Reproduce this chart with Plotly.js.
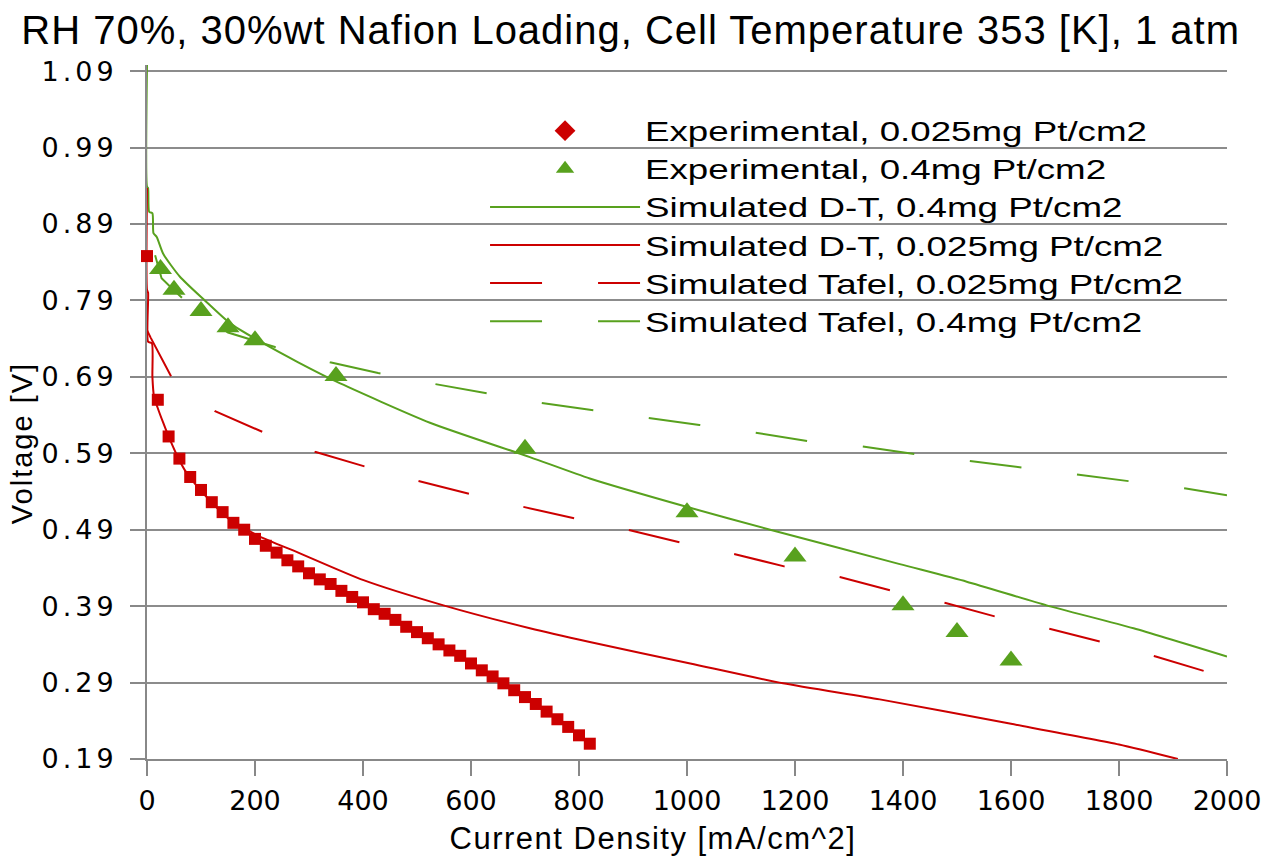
<!DOCTYPE html>
<html><head><meta charset="utf-8">
<script src="https://cdn.plot.ly/plotly-3.0.1.min.js"></script>
<style>
html,body{margin:0;padding:0;background:#fff}
.ytick text{letter-spacing:4px}
.legendtext{transform-box:fill-box;transform-origin:0 50%;transform:scaleX(1.36)}
.gtitle{letter-spacing:1px}
.xtitle{letter-spacing:1.5px;transform:translateX(-34px)}
.ytitle{letter-spacing:2px;transform-box:fill-box;transform-origin:50% 50%;transform:translate(-10px,41px) rotate(-90deg)}
</style>
</head><body><div id="chart" style="width:1274px;height:861px"></div>
<script>
// Experimental, 0.025 mg Pt/cm2
const exp025_I = [0,20,40,60,80,100,120,140,160,180,200,220,240,260,280,300,320,340,360,380,400,420,440,460,480,500,520,540,560,580,600,620,640,660,680,700,720,740,760,780,800,820];
const exp025_V = [0.848,0.660,0.612,0.583,0.559,0.542,0.526,0.513,0.499,0.490,0.478,0.469,0.460,0.450,0.442,0.433,0.425,0.419,0.410,0.402,0.395,0.386,0.380,0.372,0.363,0.356,0.348,0.340,0.332,0.325,0.315,0.306,0.298,0.289,0.280,0.271,0.262,0.252,0.242,0.232,0.221,0.210];
// Experimental, 0.4 mg Pt/cm2
const exp04_I = [25,50,100,150,200,350,700,1000,1200,1400,1500,1600];
const exp04_V = [0.831,0.804,0.776,0.755,0.738,0.691,0.596,0.513,0.455,0.391,0.356,0.319];
// Simulated D-T, 0.4 mg Pt/cm2
const dt04_I = [0,0,2,4,10,12,18,30,61,107,154,215,280,350,524,709,820,999,1154,1394,1518,1666,1827,2000];
const dt04_V = [1.098,0.939,0.937,0.906,0.904,0.878,0.873,0.851,0.821,0.790,0.760,0.734,0.709,0.684,0.630,0.585,0.557,0.520,0.490,0.445,0.422,0.391,0.361,0.324];
// Simulated D-T, 0.025 mg Pt/cm2
const dt025_I = [0,0,2,2,9,10,13,21,30,40,55,70,100,150,209,277,401,549,709,820,1006,1178,1357,1600,1800,1909];
const dt025_V = [0.937,0.804,0.800,0.736,0.734,0.690,0.664,0.647,0.630,0.612,0.588,0.568,0.541,0.505,0.481,0.461,0.424,0.391,0.361,0.343,0.315,0.289,0.268,0.236,0.209,0.190];
// Simulated Tafel, 0.025 mg Pt/cm2
const taf025_I = [0,7,48,126,217,311,407,501,597,696,791,890,990,1089,1180,1283,1380,1479,1573,1673,1769,1868,1958];
const taf025_V = [0.751,0.741,0.686,0.645,0.617,0.592,0.572,0.554,0.537,0.520,0.505,0.490,0.473,0.458,0.442,0.428,0.410,0.394,0.376,0.360,0.343,0.324,0.305];
// Simulated Tafel, 0.4 mg Pt/cm2
const taf04_I = [15,27,46,100,150,237,339,428,530,622,728,820,927,1023,1126,1223,1325,1422,1524,1622,1725,1820,1924,2000];
const taf04_V = [0.849,0.819,0.806,0.770,0.748,0.729,0.709,0.695,0.681,0.669,0.656,0.647,0.636,0.627,0.617,0.606,0.599,0.589,0.580,0.571,0.562,0.553,0.544,0.535];

const yTicks = [0.19,0.29,0.39,0.49,0.59,0.69,0.79,0.89,0.99,1.09];
const xTicks = [0,200,400,600,800,1000,1200,1400,1600,1800,2000];

const RED = '#CC0000';
const GREEN = '#58A11E';
const DASH = '52px,56px';

const traces = [
  {name:'Simulated D-T, 0.4mg Pt/cm2', x:dt04_I, y:dt04_V, mode:'lines', line:{color:GREEN,width:2,shape:'spline',smoothing:0.6}, legendrank:3, cliponaxis:false},
  {name:'Simulated D-T, 0.025mg Pt/cm2', x:dt025_I, y:dt025_V, mode:'lines', line:{color:RED,width:2,shape:'spline',smoothing:0.6}, legendrank:4, cliponaxis:false},
  {name:'Simulated Tafel, 0.025mg Pt/cm2', x:taf025_I, y:taf025_V, mode:'lines', line:{color:RED,width:2,dash:DASH}, legendrank:5, cliponaxis:false},
  {name:'Simulated Tafel, 0.4mg Pt/cm2', x:taf04_I, y:taf04_V, mode:'lines', line:{color:GREEN,width:2,dash:DASH}, legendrank:6},
  {name:'Experimental, 0.025mg Pt/cm2', x:exp025_I, y:exp025_V, mode:'markers', marker:{symbol:'square',size:12,color:RED}, showlegend:false, cliponaxis:false},
  {name:'Experimental, 0.025mg Pt/cm2', x:[null], y:[null], mode:'markers', marker:{symbol:'diamond',size:16,color:RED}, legendrank:1},
  {name:'Experimental, 0.4mg Pt/cm2', x:exp04_I, y:exp04_V, mode:'markers', marker:{symbol:'triangle-up',size:20,color:GREEN}, legendrank:2, cliponaxis:false}
];

const layout = {
  width:1274, height:861,
  margin:{l:147, r:47, t:65, b:102},
  paper_bgcolor:'#fff', plot_bgcolor:'#fff',
  font:{family:'Liberation Sans, Arial, sans-serif', color:'#000'},
  title:{text:'RH 70%, 30%wt Nafion Loading, Cell Temperature 353 [K], 1 atm', font:{family:'Liberation Sans, Arial', size:40, color:'#000'}, xref:'container', x:0.495, xanchor:'center', yref:'container', y:0.965, yanchor:'middle'},
  xaxis:{range:[0,2000], tickvals:xTicks, ticktext:xTicks.map(String), showgrid:false, zeroline:false, layer:'below traces',
    showline:true, linecolor:'#888', linewidth:2, ticks:'outside', ticklen:15, tickwidth:2, tickcolor:'#888',
    tickfont:{family:'DejaVu Sans', size:27, color:'#000'}, ticklabelstandoff:2,
    title:{text:'Current Density [mA/cm^2]', font:{family:'Liberation Sans, Arial', size:31, color:'#000'}, standoff:12}, automargin:false},
  yaxis:{range:[0.19,1.098], tickvals:yTicks, ticktext:yTicks.map(v=>v.toFixed(2)), showgrid:true, gridcolor:'#8C8C8C', gridwidth:2, zeroline:false, layer:'below traces',
    showline:true, linecolor:'#888', linewidth:2, ticks:'outside', ticklen:15, tickwidth:2, tickcolor:'#888',
    tickfont:{family:'DejaVu Sans', size:27, color:'#000'}, ticklabelstandoff:7,
    title:{text:'Voltage [V]', font:{family:'Liberation Sans, Arial', size:29, color:'#000'}, standoff:0}, automargin:false},
  legend:{x:0.313, xanchor:'left', y:0.94, yanchor:'top', bgcolor:'rgba(0,0,0,0)', borderwidth:0,
    font:{family:'Liberation Sans, Arial', size:27, color:'#000'}, itemwidth:150, tracegroupgap:0, traceorder:'normal'},
  showlegend:true
};

Plotly.newPlot('chart', traces, layout, {displayModeBar:false, responsive:false, staticPlot:true});
</script></body></html>
